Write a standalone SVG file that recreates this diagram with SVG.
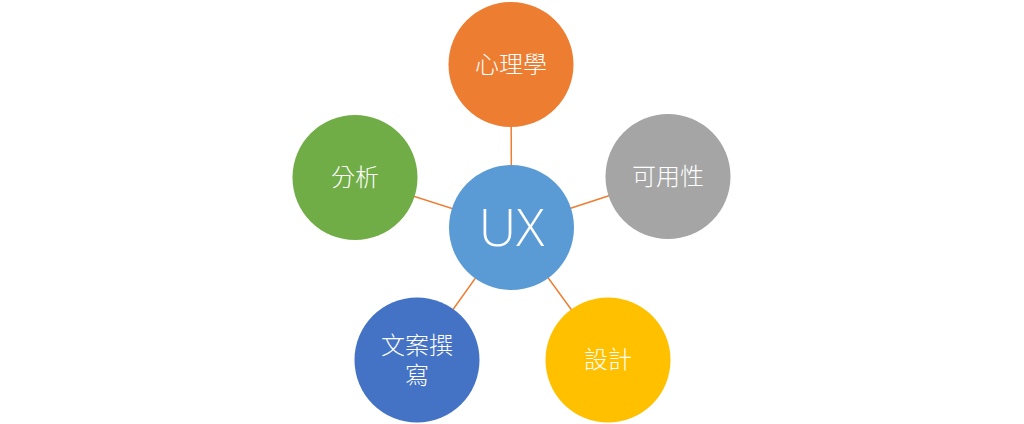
<svg xmlns="http://www.w3.org/2000/svg" width="1024" height="424" viewBox="0 0 1024 424">
<style>
.lbl{font-family:"Noto Sans CJK TC","Noto Sans CJK SC",sans-serif;font-size:24px;fill:#fff;text-anchor:middle;font-weight:300}
.ux{font-family:"Open Sans","Liberation Sans",sans-serif;font-size:52px;fill:#fff;text-anchor:middle;font-weight:300}
.con{stroke:#ED7D31;stroke-width:1.5;fill:none}
</style>
<rect width="1024" height="424" fill="#fff"/>
<g id="connectors">
<line class="con" x1="511.5" y1="227.5" x2="511" y2="64.5"/>
<line class="con" x1="511.5" y1="227.5" x2="668" y2="176.5"/>
<line class="con" x1="511.5" y1="227.5" x2="608" y2="360"/>
<line class="con" x1="511.5" y1="227.5" x2="417" y2="360"/>
<line class="con" x1="511.5" y1="227.5" x2="355" y2="177.5"/>
</g>
<g id="ux"><circle cx="511.5" cy="227.5" r="62.5" fill="#5B9BD5"/><text class="ux" x="511.5" y="246">UX</text></g>
<g id="psychology"><circle cx="511" cy="64.5" r="62.5" fill="#ED7D31"/><text class="lbl" x="511" y="73">心理學</text></g>
<g id="usability"><circle cx="668" cy="176.5" r="62.5" fill="#A5A5A5"/><text class="lbl" x="668" y="185">可用性</text></g>
<g id="design"><circle cx="608" cy="360" r="62.5" fill="#FFC000"/><text class="lbl" x="608" y="368">設計</text></g>
<g id="copywriting"><circle cx="417" cy="360" r="62.5" fill="#4472C4"/><text class="lbl" x="417" y="354">文案撰<tspan x="417" dy="30">寫</tspan></text></g>
<g id="analysis"><circle cx="355" cy="177.5" r="62.5" fill="#70AD47"/><text class="lbl" x="355" y="186">分析</text></g>
</svg>
